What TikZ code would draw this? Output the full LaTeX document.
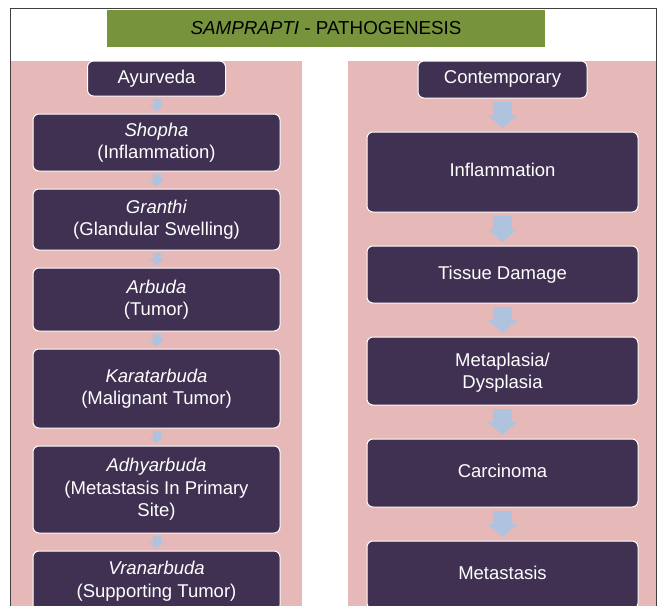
\documentclass[tikz,border=0pt]{standalone}
\usepackage{fontspec}
\setmainfont{Liberation Sans}
\usetikzlibrary{positioning,arrows.meta}
\definecolor{panelpink}{HTML}{E6B9B8}
\definecolor{boxpurple}{HTML}{403152}
\definecolor{titlegreen}{HTML}{77933C}
\definecolor{flowblue}{HTML}{AFC3DF}

\begin{document}
\begin{tikzpicture}[x=1pt, y=1pt,
    stage/.style={draw=white, line width=1pt, fill=boxpurple, rounded corners=6pt,
      text=white, align=center, inner sep=0pt, outer sep=0pt,
      font=\fontsize{18.5}{22.5}\selectfont},
    ayur/.style={stage, minimum width=247pt},
    modern/.style={stage, minimum width=271pt, text depth=4pt},
    smallflow/.style={draw=flowblue, line width=8pt, shorten <=3pt, shorten >=3pt,
      -{Triangle[width=15pt, length=6pt, line width=0pt]}},
    bigflow/.style={draw=flowblue, line width=19pt, shorten <=4pt, shorten >=4pt,
      -{Triangle[width=30pt, length=13pt, line width=0pt]}}]
    \clip (0,0) rectangle (657,-606);

    % frame and panels
    \fill[panelpink] (11,-61) rectangle (302,-620);
    \fill[panelpink] (348,-61) rectangle (656,-620);
    \draw[black!75, line width=0.8pt] (10.5,-620) |- (656,-8.4) -- (656,-620);

    \node (title) [fill=titlegreen, minimum width=438pt, minimum height=37pt,
      font=\fontsize{18.8}{22}\selectfont] at (326,-28.5) {\textit{SAMPRAPTI} - PATHOGENESIS};

    % Ayurveda column
    \node (ayurveda) [stage, minimum width=138pt, minimum height=35pt] at (156.5,-78.5) {Ayurveda};
    \node (shopha) [ayur, minimum height=57pt, below=18pt of ayurveda] {\textit{Shopha}\\(Inflammation)};
    \node (granthi) [ayur, minimum height=61pt, below=18pt of shopha] {\textit{Granthi}\\(Glandular Swelling)};
    \node (arbuda) [ayur, minimum height=63pt, below=18pt of granthi] {\textit{Arbuda}\\(Tumor)};
    \node (karatarbuda) [ayur, minimum height=79pt, below=18pt of arbuda] {\textit{Karatarbuda}\\(Malignant Tumor)};
    \node (adhyarbuda) [ayur, minimum height=87pt, below=18pt of karatarbuda] {\textit{Adhyarbuda}\\(Metastasis In Primary\\Site)};
    \node (vranarbuda) [ayur, minimum height=60pt, below=18pt of adhyarbuda] {\textit{Vranarbuda}\\(Supporting Tumor)};

    % Contemporary column
    \node (contemporary) [stage, minimum width=169pt, minimum height=37pt, text depth=4pt] at (502.5,-79.5) {Contemporary};
    \node (inflammation) [modern, minimum height=80pt, below=34pt of contemporary] {Inflammation};
    \node (damage) [modern, minimum height=57pt, below=34pt of inflammation] {Tissue Damage};
    \node (metaplasia) [modern, minimum height=68pt, below=34pt of damage, text depth=0pt] {Metaplasia/\\Dysplasia};
    \node (carcinoma) [modern, minimum height=68pt, below=34pt of metaplasia] {Carcinoma};
    \node (metastasis) [modern, minimum height=68pt, below=34pt of carcinoma] {Metastasis};

    \draw[smallflow] (ayurveda) -- (shopha);
    \draw[smallflow] (shopha) -- (granthi);
    \draw[smallflow] (granthi) -- (arbuda);
    \draw[smallflow] (arbuda) -- (karatarbuda);
    \draw[smallflow] (karatarbuda) -- (adhyarbuda);
    \draw[smallflow] (adhyarbuda) -- (vranarbuda);

    \draw[bigflow] (contemporary) -- (inflammation);
    \draw[bigflow] (inflammation) -- (damage);
    \draw[bigflow] (damage) -- (metaplasia);
    \draw[bigflow] (metaplasia) -- (carcinoma);
    \draw[bigflow] (carcinoma) -- (metastasis);
\end{tikzpicture}
\end{document}
